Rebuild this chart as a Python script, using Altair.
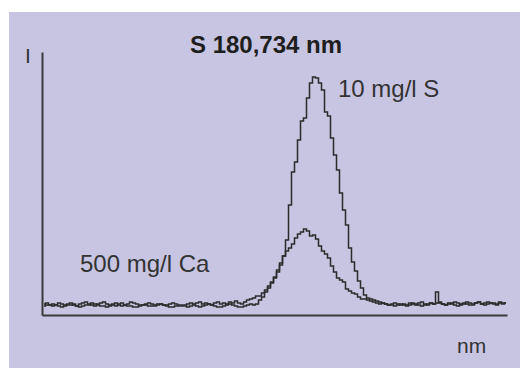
import altair as alt
import pandas as pd

# Intensity traces (arbitrary units), sampled at equal steps along the wavelength axis
s_vals = [
    9, 10, 10, 11, 10, 9, 8, 9, 10, 10,
    11, 9, 8, 9, 10, 10, 12, 11, 10, 9,
    9, 8, 9, 10, 9, 11, 12, 10, 9, 9,
    8, 8, 9, 10, 10, 9, 9, 9, 10, 11,
    10, 9, 8, 8, 9, 9, 9, 9, 8, 9,
    10, 9, 8, 9, 10, 11, 10, 9, 8, 8,
    9, 10, 11, 10, 9, 8, 8, 9, 10, 11,
    10, 11, 15, 18, 23, 27, 32, 37, 43, 50,
    59, 75, 110, 143, 153, 175, 194, 197, 217, 232,
    238, 237, 232, 225, 203, 199, 177, 160, 145, 122,
    105, 90, 67, 53, 44, 34, 27, 20, 17, 16,
    15, 14, 13, 12, 11, 10, 10, 9, 10, 11,
    10, 9, 10, 12, 11, 10, 9, 10, 11, 12,
    11, 23, 12, 11, 10, 11, 12, 10, 9, 11,
    12, 11, 10, 10, 12, 13, 11, 10, 11, 12,
    11, 10, 12, 11, 12,
]

ca_vals = [
    11, 12, 10, 9, 10, 12, 11, 10, 11, 12,
    10, 9, 11, 12, 13, 11, 10, 9, 11, 12,
    13, 11, 10, 11, 12, 10, 9, 10, 11, 13,
    12, 11, 10, 10, 11, 12, 11, 10, 11, 11,
    10, 10, 11, 12, 11, 10, 10, 10, 11, 12,
    11, 12, 13, 11, 12, 11, 10, 12, 13, 11,
    12, 11, 13, 12, 14, 12, 11, 13, 15, 16,
    17, 19, 19, 22, 25, 29, 33, 38, 45, 52,
    59, 64, 67, 71, 77, 81, 83, 86, 84, 79,
    80, 76, 69, 64, 61, 57, 49, 43, 37, 35,
    33, 26, 24, 22, 21, 18, 16, 16, 15, 14,
    13, 12, 11, 12, 11, 10, 11, 12, 11, 10,
    11, 10, 12, 11, 10, 12, 13, 11, 10, 12,
    11, 12, 13, 11, 10, 12, 11, 13, 12, 10,
    11, 13, 12, 11, 12, 13, 11, 12, 13, 12,
    12, 11, 13, 12, 12,
]

series_names = ["10 mg/l S", "500 mg/l Ca"]

rows = []
for name, vals in zip(series_names, [s_vals, ca_vals]):
    for i, v in enumerate(vals):
        rows.append({"series": name, "x": 2 + 3 * i, "y": v})
df = pd.DataFrame(rows)

FONT = "Liberation Sans"
INK = "#2b2b2b"

no_axis = alt.Axis(title=None, labels=False, ticks=False, grid=False,
                   domain=True, domainColor="#3a3a3a", domainWidth=2, zindex=2)

one = pd.DataFrame({"k": [0]})

bg = alt.Chart(one).mark_rect(color="#c8c5e2").encode(
    x=alt.value(-33), x2=alt.value(478), y=alt.value(-40), y2=alt.value(316)
)

lines = alt.Chart(df).mark_line(color=INK, strokeWidth=1.5, interpolate="step").encode(
    x=alt.X("x:Q", scale=alt.Scale(domain=[0, 465], nice=False, zero=False), axis=no_axis),
    y=alt.Y("y:Q", scale=alt.Scale(domain=[0, 263], nice=False), axis=no_axis),
    detail="series:N",
)

def label(text, x, y, size=24, weight="normal", align="left", color="#333333"):
    return alt.Chart(one).mark_text(
        text=text, font=FONT, fontSize=size, fontWeight=weight,
        align=align, baseline="alphabetic", color=color
    ).encode(x=alt.value(x), y=alt.value(y))

title = label("S 180,734 nm", 224, 1, size=24, weight="bold", align="center", color="#1e1e1e")
lab_s = label("10 mg/l S", 296, 45)
lab_ca = label("500 mg/l Ca", 38, 220)
lab_i = label("I", -17, 11, size=21)
lab_nm = label("nm", 415, 301, size=21)

chart = alt.layer(bg, lines, title, lab_s, lab_ca, lab_i, lab_nm).properties(
    width=465,
    height=263,
    padding={"left": 42, "top": 52, "right": 13, "bottom": 53},
    autosize=alt.AutoSizeParams(type="none"),
).configure(background="white").configure_view(stroke=None)

chart.save("out.html", embed_options={"renderer": "svg", "actions": False})
